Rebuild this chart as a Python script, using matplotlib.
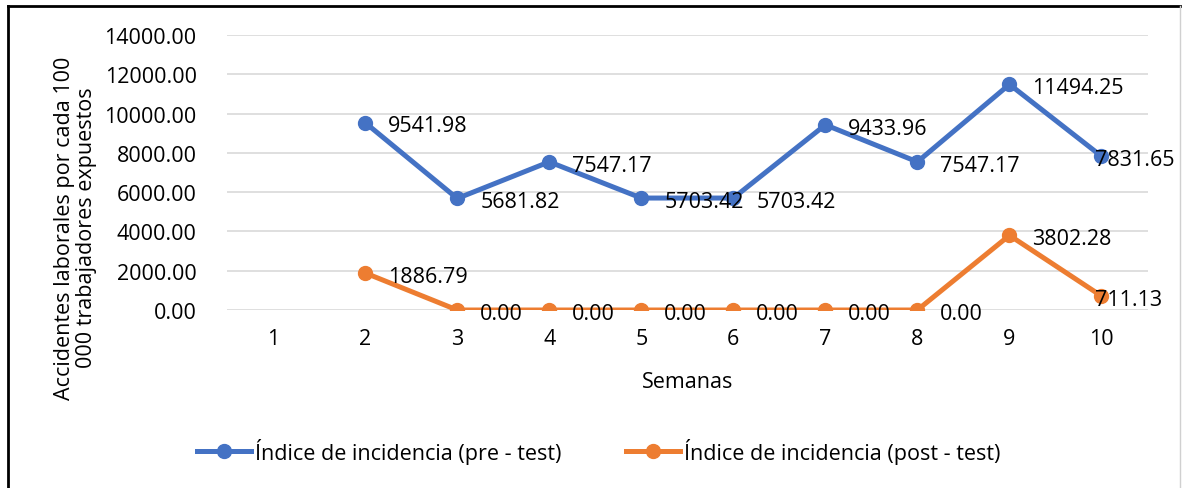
import matplotlib.pyplot as plt
from matplotlib.lines import Line2D

# data
semanas = [1, 2, 3, 4, 5, 6, 7, 8, 9, 10]
pre_test = [None, 9541.98, 5681.82, 7547.17, 5703.42, 5703.42, 9433.96, 7547.17, 11494.25, 7831.65]
post_test = [None, 1886.79, 0.00, 0.00, 0.00, 0.00, 0.00, 0.00, 3802.28, 711.13]
y_ticks = [0, 2000, 4000, 6000, 8000, 10000, 12000, 14000]

BLUE = '#4472C4'
ORANGE = '#ED7D31'
FS = 15.5

plt.rcParams['font.family'] = ['Open Sans', 'DejaVu Sans']

fig = plt.figure(figsize=(11.83, 4.89), dpi=100)
ax = fig.add_axes([0.192, 0.364, 0.778, 0.562])

def plot_series(vals, color, label):
    xs = [i for i, v in zip(range(len(semanas)), vals) if v is not None]
    ys = [v for v in vals if v is not None]
    ax.plot(xs, ys, color=color, lw=3.6, marker='o', ms=10, label=label, zorder=3)
    for x, y in zip(xs, ys):
        dx = -5 if x == len(semanas) - 1 else 16.5
        ax.annotate(f'{y:.2f}', (x, y), xytext=(dx, -0.5), textcoords='offset points',
                    ha='left', va='center_baseline', fontsize=FS, color='black', zorder=4)

plot_series(pre_test, BLUE, 'Índice de incidencia (pre - test)')
plot_series(post_test, ORANGE, 'Índice de incidencia (post - test)')

ax.set_xlim(-0.5, len(semanas) - 0.5)
ax.set_ylim(0, 14000)
ax.set_xticks(range(len(semanas)))
ax.set_xticklabels([str(s) for s in semanas], fontsize=FS)
ax.set_yticks(y_ticks)
ax.set_yticklabels([f'{t:.2f}' for t in y_ticks], fontsize=FS)
ax.tick_params(length=0, pad=13)
ax.tick_params(axis='y', pad=22)
ax.grid(axis='y', color='#D9D9D9', lw=1.2)
ax.set_axisbelow(True)
for s in ax.spines.values():
    s.set_visible(False)

ax.set_xlabel('Semanas', fontsize=FS, labelpad=16)
fig.text(0.064, 0.534, 'Accidentes laborales por cada 100\n000 trabajadores expuestos',
         rotation=90, ha='center', va='center', fontsize=FS, multialignment='center',
         linespacing=1.05)

fig.legend(loc='center', bbox_to_anchor=(0.506, 0.076), ncol=2, frameon=False,
           fontsize=FS, handlelength=2.5, handletextpad=0.2, columnspacing=3.0)

# chart frame
fig.add_artist(Line2D([8 / 1183, 8 / 1183], [0, 1 - 7 / 489], color='black', lw=2))
fig.add_artist(Line2D([8 / 1183, 1180 / 1183], [1 - 7 / 489, 1 - 7 / 489], color='black', lw=2))
fig.add_artist(Line2D([1180 / 1183, 1180 / 1183], [0, 1 - 7 / 489], color='#D0D0D0', lw=1))

fig.savefig('out.png', dpi=100)
